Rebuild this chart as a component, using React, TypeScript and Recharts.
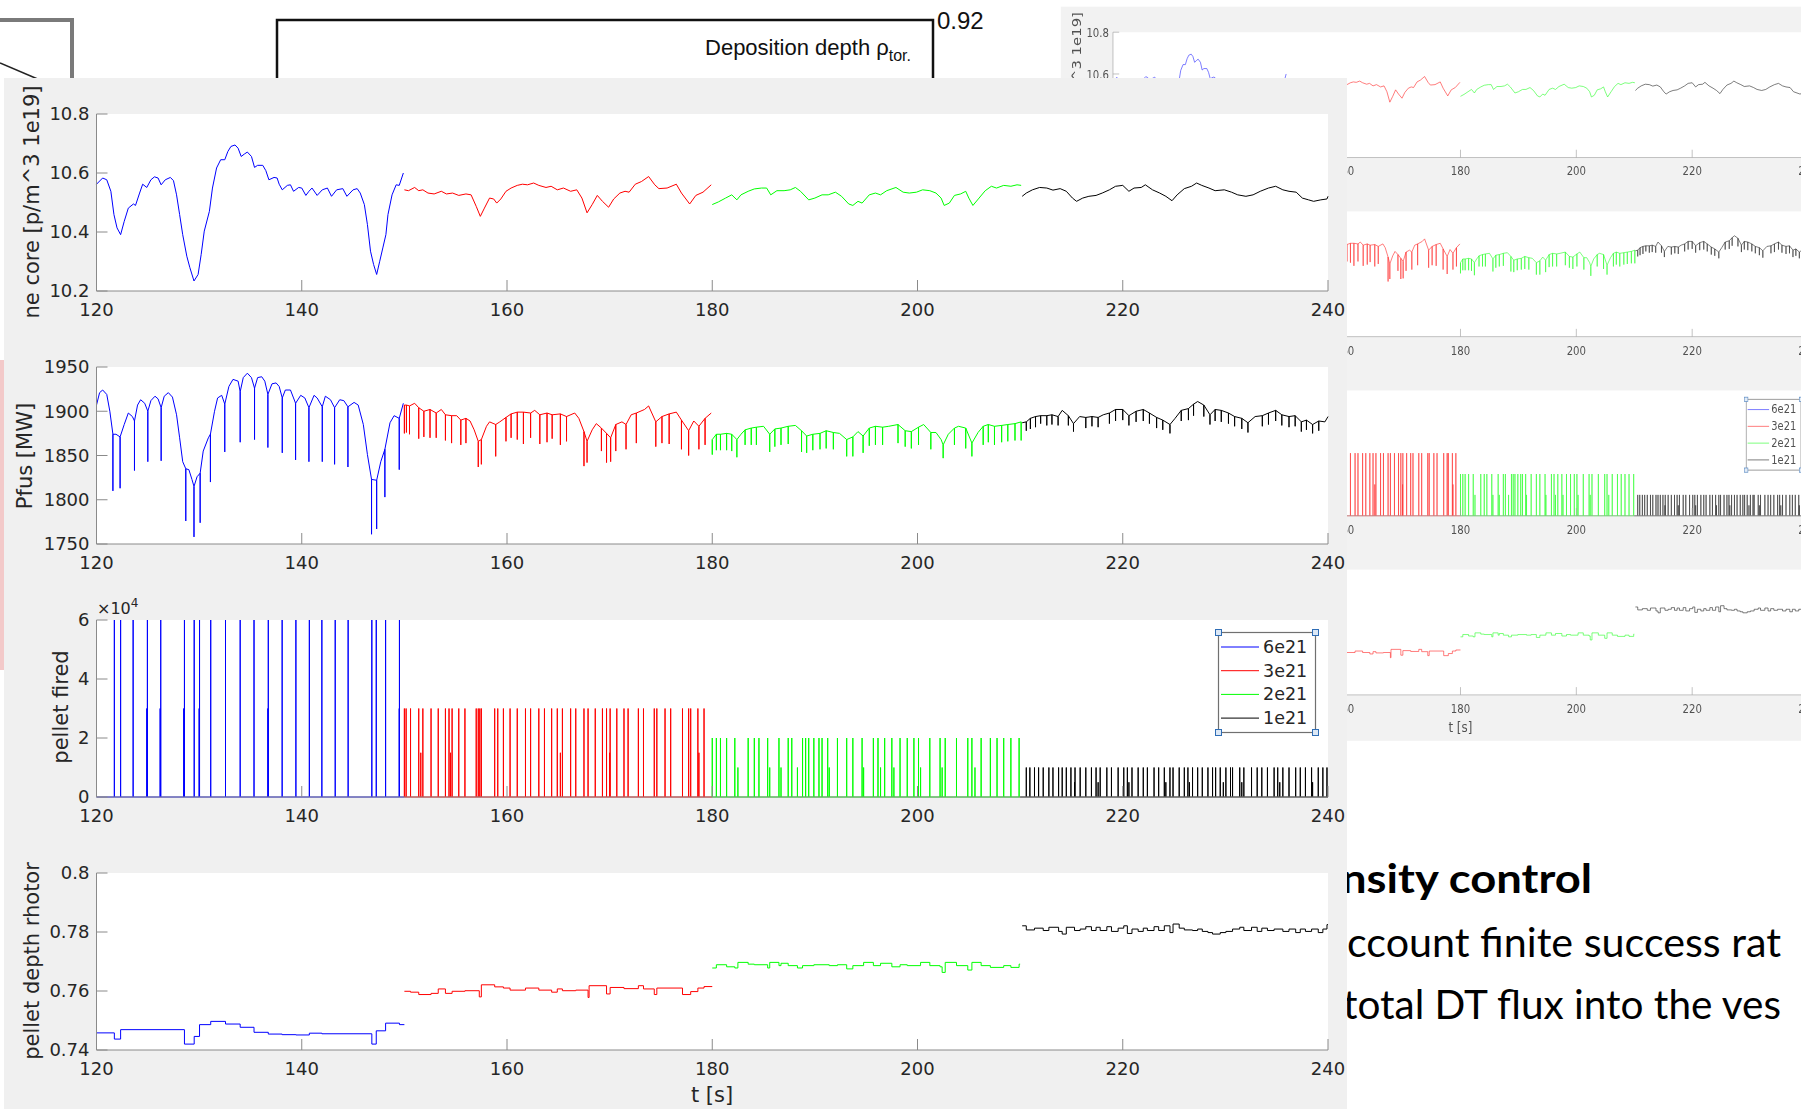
import React from "react";
import { LineChart, Line, XAxis, YAxis, CartesianGrid, Legend } from "recharts";

type Pt = number[];

// ---- axes ----
const timeTicks = [120, 140, 160, 180, 200, 220, 240];
const neTicks = [10.2, 10.4, 10.6, 10.8];
const pfusTicks = [1750, 1800, 1850, 1900, 1950];
const pelletTicks = [0, 20000, 40000, 60000];
const depthTicks = [0.74, 0.76, 0.78, 0.8];

// one segment per pellet size
const seriesNames = ["6e21", "3e21", "2e21", "1e21"];
const segments = [
  [120, 150],
  [150, 180],
  [180, 210],
  [210, 240],
];

// ---- ne core [1e19 m^-3] : [t, value] ----
const neBlue: Pt[] = [
  [120.0, 10.562], [120.6, 10.583], [121.0, 10.577], [121.4, 10.538], [121.7, 10.459], [122.0, 10.414],
  [122.35, 10.391], [122.7, 10.436], [123.1, 10.481], [123.6, 10.495], [123.8, 10.49], [124.2, 10.532],
  [124.5, 10.562], [124.9, 10.551], [125.3, 10.577], [125.65, 10.587], [126.0, 10.583], [126.3, 10.56],
  [126.7, 10.577], [127.2, 10.585], [127.5, 10.574], [127.8, 10.526], [128.1, 10.459], [128.4, 10.391],
  [128.8, 10.318], [129.1, 10.279], [129.5, 10.234], [129.9, 10.256], [130.2, 10.324], [130.5, 10.403],
  [131.0, 10.47], [131.3, 10.549], [131.7, 10.617], [132.1, 10.645], [132.5, 10.645], [132.8, 10.673],
  [133.1, 10.69], [133.5, 10.695], [133.8, 10.684], [134.1, 10.656], [134.4, 10.664], [134.7, 10.671],
  [135.1, 10.656], [135.4, 10.619], [135.7, 10.626], [136.2, 10.626], [136.5, 10.608], [136.8, 10.577],
  [137.3, 10.585], [137.6, 10.583], [137.8, 10.562], [138.1, 10.543], [138.6, 10.558], [138.9, 10.56],
  [139.2, 10.538], [139.7, 10.551], [140.0, 10.549], [140.4, 10.524], [140.7, 10.538], [141.0, 10.549],
  [141.5, 10.524], [142.0, 10.543], [142.5, 10.549], [142.9, 10.521], [143.4, 10.543], [144.0, 10.547],
  [144.4, 10.521], [145.0, 10.543], [145.4, 10.547], [145.7, 10.532], [146.1, 10.493], [146.4, 10.425],
  [146.7, 10.335], [147.0, 10.29], [147.3, 10.256], [147.6, 10.301], [147.9, 10.346], [148.2, 10.391],
  [148.4, 10.459], [148.8, 10.526], [149.2, 10.56], [149.5, 10.558], [149.9, 10.6],
];
const neRed: Pt[] = [
  [150.0, 10.543], [150.4, 10.54], [151.0, 10.551], [151.4, 10.54], [151.8, 10.543], [152.3, 10.532],
  [152.9, 10.529], [153.6, 10.538], [154.1, 10.529], [154.7, 10.532], [155.3, 10.524], [156.0, 10.529],
  [156.5, 10.526], [157.0, 10.487], [157.4, 10.453], [157.8, 10.481], [158.3, 10.515], [158.7, 10.512],
  [159.0, 10.498], [159.4, 10.512], [159.9, 10.538], [160.4, 10.549], [161.0, 10.558], [161.5, 10.562],
  [162.0, 10.56], [162.6, 10.566], [163.1, 10.558], [163.8, 10.551], [164.3, 10.555], [164.9, 10.543],
  [165.5, 10.549], [166.2, 10.538], [166.8, 10.543], [167.3, 10.515], [167.8, 10.465], [168.3, 10.493],
  [168.8, 10.524], [169.3, 10.504], [169.9, 10.484], [170.4, 10.512], [171.0, 10.532], [171.5, 10.538],
  [171.9, 10.535], [172.5, 10.562], [173.1, 10.571], [173.8, 10.588], [174.4, 10.56], [174.8, 10.547],
  [175.6, 10.549], [176.5, 10.562], [177.0, 10.532], [177.8, 10.495], [178.4, 10.524], [179.1, 10.535],
  [179.9, 10.56],
];
const neGreen: Pt[] = [
  [180.0, 10.493], [180.6, 10.502], [181.3, 10.515], [181.9, 10.526], [182.4, 10.509], [182.8, 10.526],
  [183.5, 10.538], [184.1, 10.546], [184.8, 10.549], [185.3, 10.549], [185.7, 10.526], [186.3, 10.54],
  [187.0, 10.54], [187.6, 10.543], [188.1, 10.551], [188.6, 10.538], [189.4, 10.509], [190.0, 10.515],
  [190.7, 10.526], [191.3, 10.526], [192.0, 10.535], [192.6, 10.521], [193.3, 10.495], [193.7, 10.49],
  [194.2, 10.504], [194.6, 10.498], [195.3, 10.526], [195.9, 10.532], [196.4, 10.526], [197.0, 10.54],
  [197.9, 10.551], [198.6, 10.535], [199.2, 10.532], [199.9, 10.535], [200.5, 10.543], [201.2, 10.54],
  [201.8, 10.532], [202.3, 10.515], [202.6, 10.49], [203.1, 10.498], [203.6, 10.524], [204.2, 10.529],
  [204.7, 10.538], [205.0, 10.515], [205.4, 10.49], [206.0, 10.515], [206.6, 10.54], [207.2, 10.555],
  [207.7, 10.549], [208.4, 10.558], [209.1, 10.555], [209.7, 10.56], [210.1, 10.558],
];
const neBlack: Pt[] = [
  [210.2, 10.521], [210.6, 10.532], [211.2, 10.543], [211.9, 10.551], [212.6, 10.549], [213.2, 10.542],
  [213.9, 10.547], [214.5, 10.538], [215.1, 10.515], [215.5, 10.504], [216.1, 10.515], [216.7, 10.521],
  [217.4, 10.524], [218.0, 10.532], [218.7, 10.543], [219.3, 10.555], [220.0, 10.558], [220.6, 10.538],
  [221.1, 10.549], [221.8, 10.551], [222.2, 10.56], [222.9, 10.543], [223.6, 10.532], [224.2, 10.521],
  [224.8, 10.506], [225.3, 10.526], [226.0, 10.547], [226.7, 10.555], [227.2, 10.566], [227.7, 10.558],
  [228.4, 10.549], [229.0, 10.54], [229.9, 10.543], [230.6, 10.535], [231.2, 10.526], [232.0, 10.521],
  [232.7, 10.526], [233.4, 10.538], [234.2, 10.549], [234.9, 10.555], [235.6, 10.543], [236.2, 10.538],
  [236.9, 10.535], [237.5, 10.515], [238.1, 10.509], [238.6, 10.504], [239.3, 10.509], [239.9, 10.512],
  [240.0, 10.521],
];

// ---- Pfus [MW] : [t, value, spike minimum when a pellet hits] ----
const pfusBlue: Pt[] = [
  [120.0, 1907], [120.3, 1921], [120.6, 1924], [121.0, 1919], [121.3, 1900], [121.6, 1874, 1810],
  [121.9, 1874], [122.3, 1871, 1813], [122.7, 1885], [123.1, 1898], [123.5, 1894], [123.7, 1889, 1833],
  [124.0, 1907], [124.3, 1913], [124.7, 1909], [125.0, 1900, 1843], [125.3, 1912], [125.7, 1917],
  [126.0, 1914], [126.3, 1904, 1844], [126.6, 1917], [127.0, 1921], [127.4, 1916], [127.8, 1896],
  [128.1, 1870], [128.4, 1843], [128.7, 1835, 1776], [129.0, 1834], [129.3, 1823], [129.5, 1815, 1758],
  [129.8, 1826], [130.1, 1830, 1774], [130.4, 1855], [130.9, 1870], [131.1, 1874, 1820], [131.5, 1900],
  [131.8, 1915], [132.2, 1918], [132.5, 1908, 1854], [132.9, 1928], [133.3, 1936], [133.8, 1934],
  [134.0, 1922, 1865], [134.3, 1938], [134.7, 1943], [135.1, 1938], [135.4, 1926, 1868], [135.7, 1938],
  [136.1, 1939], [136.4, 1934], [136.7, 1919, 1859], [137.1, 1931], [137.5, 1932], [137.8, 1928],
  [138.1, 1915, 1853], [138.4, 1924], [138.9, 1924], [139.2, 1915], [139.4, 1909, 1845], [139.9, 1918],
  [140.3, 1915], [140.7, 1904, 1843], [141.2, 1918], [141.5, 1915], [142.0, 1905, 1843], [142.3, 1917],
  [142.8, 1913], [143.2, 1904, 1840], [143.7, 1913], [144.1, 1912], [144.5, 1905, 1837], [145.1, 1910],
  [145.5, 1907], [146.0, 1885], [146.4, 1851], [146.8, 1823, 1761], [147.3, 1822, 1767], [147.7, 1843],
  [148.1, 1857, 1803], [148.6, 1887], [149.0, 1895], [149.5, 1892, 1834], [149.9, 1909],
];
const pfusRed: Pt[] = [
  [150.0, 1907, 1875], [150.2, 1907, 1876], [150.5, 1906, 1874], [151.0, 1909], [151.4, 1904, 1869],
  [151.9, 1900, 1871], [152.5, 1902, 1870], [153.1, 1898, 1870], [153.6, 1902], [154.0, 1896, 1867],
  [154.6, 1895, 1864], [155.1, 1895], [155.5, 1890, 1862], [156.0, 1892, 1864], [156.4, 1889], [156.8, 1879],
  [157.2, 1866, 1837], [157.5, 1868, 1840], [158.0, 1883], [158.3, 1888], [158.9, 1885, 1849], [159.3, 1888],
  [159.9, 1893, 1866], [160.4, 1897, 1870], [161.0, 1899, 1868], [161.6, 1899, 1863], [162.3, 1898, 1870],
  [162.7, 1901], [163.2, 1896, 1863], [163.9, 1898, 1865], [164.4, 1896, 1869], [165.2, 1897, 1862],
  [165.8, 1894, 1866], [166.6, 1898], [167.0, 1892], [167.5, 1877, 1838], [167.8, 1866, 1842], [168.3, 1879],
  [168.7, 1886], [169.2, 1881, 1855], [169.7, 1875, 1842], [170.1, 1870, 1843], [170.6, 1885, 1855],
  [171.2, 1888], [171.6, 1885, 1857], [172.1, 1896], [172.6, 1898, 1864], [173.4, 1902], [173.8, 1906],
  [174.5, 1888, 1860], [175.1, 1894, 1864], [175.8, 1897, 1863], [176.5, 1899], [177.0, 1890, 1857],
  [177.7, 1878, 1850], [178.2, 1889], [178.7, 1883, 1857], [179.3, 1892, 1862], [179.9, 1898],
];
const pfusGreen: Pt[] = [
  [180.0, 1868, 1851], [180.4, 1874, 1856], [180.8, 1874, 1856], [181.4, 1875, 1856], [181.9, 1874, 1855],
  [182.4, 1868, 1848], [182.8, 1874], [183.2, 1879, 1862], [183.8, 1881, 1862], [184.3, 1882, 1862],
  [185.0, 1883], [185.6, 1874, 1854], [186.1, 1880, 1860], [186.7, 1881, 1862], [187.4, 1883, 1863],
  [188.1, 1884], [188.7, 1878, 1854], [189.2, 1872, 1853], [189.8, 1874, 1856], [190.5, 1875, 1857],
  [191.1, 1878, 1858], [191.8, 1876, 1857], [192.4, 1875], [193.1, 1868, 1849], [193.7, 1871, 1849],
  [194.2, 1877], [194.7, 1872, 1853], [195.3, 1881, 1861], [195.9, 1883, 1862], [196.6, 1882, 1862],
  [197.2, 1883], [198.1, 1885, 1864], [198.8, 1878, 1860], [199.4, 1877, 1858], [200.1, 1882, 1862],
  [200.6, 1885], [201.3, 1876, 1857], [201.8, 1876], [202.3, 1868], [202.5, 1862, 1847], [203.0, 1874],
  [203.6, 1881, 1862], [204.0, 1883], [204.7, 1881, 1858], [205.3, 1864, 1849], [205.9, 1876],
  [206.4, 1883, 1862], [206.9, 1885, 1865], [207.5, 1883, 1862], [208.2, 1884, 1865], [208.8, 1885, 1866],
  [209.5, 1886, 1867], [210.1, 1888, 1867],
];
const pfusBlack: Pt[] = [
  [210.2, 1887], [210.6, 1888, 1878], [211.0, 1892, 1880], [211.5, 1894, 1882], [212.0, 1895, 1886],
  [212.6, 1895, 1884], [213.1, 1896, 1885], [213.7, 1894, 1884], [214.1, 1901], [214.7, 1895, 1884],
  [215.2, 1886, 1877], [215.8, 1894], [216.4, 1893, 1881], [217.0, 1894, 1883], [217.6, 1893, 1882],
  [218.1, 1896], [218.7, 1898, 1886], [219.3, 1902, 1889], [220.0, 1902, 1890], [220.6, 1895, 1884],
  [221.3, 1900, 1888], [222.0, 1902, 1889], [222.6, 1898, 1886], [223.3, 1893, 1881], [223.9, 1890, 1879],
  [224.6, 1885, 1875], [225.1, 1892], [225.7, 1901, 1889], [226.4, 1903, 1890], [226.9, 1908, 1895],
  [227.3, 1911], [227.9, 1907, 1894], [228.5, 1896, 1885], [229.0, 1902, 1889], [229.6, 1901, 1888],
  [230.3, 1898, 1886], [230.9, 1894, 1883], [231.6, 1892, 1880], [232.2, 1887, 1876], [232.9, 1894],
  [233.6, 1895, 1883], [234.2, 1898, 1885], [234.9, 1901, 1889], [235.5, 1896, 1884], [236.2, 1894, 1882],
  [236.8, 1895, 1883], [237.4, 1888, 1877], [237.9, 1890, 1879], [238.5, 1885, 1875], [239.1, 1889, 1878],
  [239.7, 1888], [240.0, 1894],
];

// ---- pellets fired : [t, amount] ----
const pelletBlue: Pt[] = [
  [121.74, 60000], [122.35, 60000], [123.57, 60000], [124.9, 30000], [124.96, 60000], [126.2, 30000],
  [126.26, 60000], [128.5, 30000], [128.57, 60000], [129.52, 60000], [130.0, 30000], [130.04, 60000],
  [131.13, 60000], [132.57, 60000], [134.0, 60000], [135.35, 60000], [136.7, 30000], [136.74, 60000],
  [138.09, 60000], [139.43, 60000], [140.74, 60000], [141.96, 60000], [143.26, 60000], [144.52, 60000],
  [146.83, 60000], [147.26, 60000], [148.17, 60000], [149.5, 30000], [149.52, 60000],
];
const pelletRed: Pt[] = [
  [150.0, 30000], [150.17, 30000], [150.6, 30000], [151.4, 30000], [151.6, 15000], [151.8, 30000],
  [152.6, 30000], [153.3, 30000], [154.0, 30000], [154.35, 30000], [154.5, 15000], [154.65, 30000],
  [155.3, 30000], [155.9, 30000], [157.0, 30000], [157.2, 30000], [157.35, 30000], [157.5, 30000],
  [158.8, 30000], [159.1, 30000], [159.65, 30000], [160.3, 30000], [161.0, 30000], [161.8, 30000],
  [162.3, 30000], [163.1, 30000], [163.65, 30000], [164.35, 30000], [164.9, 30000], [165.2, 15000],
  [165.4, 30000], [166.2, 30000], [166.7, 30000], [167.5, 30000], [167.9, 30000], [168.6, 30000],
  [169.3, 30000], [169.7, 30000], [170.0, 15000], [170.05, 30000], [170.7, 30000], [171.4, 30000],
  [171.8, 30000], [172.8, 30000], [173.3, 30000], [174.35, 30000], [174.6, 30000], [175.4, 30000],
  [175.95, 30000], [177.1, 30000], [177.7, 30000], [177.9, 30000], [178.6, 30000], [178.7, 15000],
  [179.2, 30000],
];
const pelletGreen: Pt[] = [
  [180.0, 20000], [180.4, 20000], [180.8, 20000], [181.4, 20000], [182.2, 20000], [182.5, 10000],
  [183.5, 20000], [184.1, 20000], [184.55, 20000], [185.4, 20000], [185.6, 10000], [186.5, 20000],
  [186.7, 10000], [187.4, 20000], [187.75, 20000], [188.3, 10000], [188.8, 20000], [189.1, 20000],
  [189.4, 20000], [189.9, 20000], [190.4, 20000], [190.7, 20000], [191.25, 20000], [191.4, 10000],
  [192.2, 20000], [193.1, 20000], [193.7, 20000], [194.6, 20000], [194.75, 10000], [195.7, 20000],
  [196.15, 20000], [196.4, 10000], [196.8, 20000], [197.5, 20000], [197.7, 10000], [198.3, 20000],
  [199.0, 20000], [199.65, 20000], [200.1, 20000], [200.3, 10000], [201.2, 20000], [202.2, 20000],
  [202.4, 10000], [202.7, 20000], [203.8, 20000], [204.9, 20000], [205.3, 20000], [205.6, 10000],
  [206.2, 20000], [207.1, 20000], [207.75, 20000], [208.4, 20000], [209.1, 20000], [209.9, 20000],
];
const pelletBlack: Pt[] = [
  [210.6, 10000], [210.95, 10000], [211.4, 10000], [211.8, 10000], [212.25, 10000], [212.8, 10000],
  [213.2, 10000], [213.75, 10000], [214.1, 10000], [214.5, 10000], [214.95, 10000], [215.3, 5000],
  [215.35, 10000], [215.85, 10000], [216.4, 10000], [216.95, 10000], [217.4, 10000], [217.6, 5000],
  [217.8, 10000], [218.45, 10000], [218.9, 10000], [219.55, 10000], [220.1, 10000], [220.45, 10000],
  [220.6, 5000], [220.9, 10000], [221.5, 10000], [222.0, 10000], [222.4, 10000], [223.05, 10000],
  [223.5, 10000], [224.05, 10000], [224.2, 5000], [224.6, 10000], [224.9, 10000], [225.5, 10000],
  [226.0, 10000], [226.35, 10000], [226.5, 5000], [226.8, 10000], [227.3, 10000], [227.75, 10000],
  [228.3, 10000], [228.75, 10000], [229.05, 10000], [229.5, 10000], [229.8, 5000], [230.05, 10000],
  [230.5, 10000], [230.7, 10000], [231.4, 10000], [231.6, 5000], [231.8, 10000], [232.55, 10000],
  [233.1, 10000], [233.55, 10000], [234.1, 10000], [234.75, 10000], [235.1, 10000], [235.3, 5000],
  [235.6, 10000], [236.2, 10000], [236.85, 10000], [237.3, 10000], [237.8, 10000], [238.4, 10000],
  [238.5, 5000], [239.05, 10000], [239.5, 10000], [239.9, 10000],
];

// ---- pellet deposition depth (rho_tor), stepped : [t, value] ----
const depthBlue: Pt[] = [
  [120.0, 0.7458], [121.74, 0.7437], [122.35, 0.7469], [128.57, 0.742], [129.52, 0.7446], [130.04, 0.7486],
  [131.13, 0.7497], [132.57, 0.7488], [134.0, 0.7477], [135.35, 0.746], [136.74, 0.7454], [138.09, 0.7452],
  [139.43, 0.7451], [140.74, 0.7457], [141.96, 0.7455], [146.83, 0.742], [147.26, 0.7465], [148.17, 0.7491],
  [149.52, 0.7486],
];
const depthRed: Pt[] = [
  [150.0, 0.7599], [150.6, 0.7596], [151.4, 0.7588], [152.6, 0.7592], [153.3, 0.7607], [154.0, 0.7592],
  [154.65, 0.7599], [155.9, 0.7601], [157.3, 0.758], [157.5, 0.7621], [158.8, 0.7614], [159.65, 0.761],
  [160.3, 0.7603], [161.8, 0.761], [163.1, 0.7603], [164.35, 0.7596], [164.9, 0.7607], [165.4, 0.7601],
  [166.7, 0.7603], [167.9, 0.7578], [168.0, 0.7618], [169.7, 0.759], [170.05, 0.7612], [171.4, 0.7608],
  [172.8, 0.7618], [173.3, 0.7607], [174.35, 0.7588], [174.6, 0.761], [177.1, 0.7588], [177.9, 0.7598],
  [178.6, 0.761], [179.2, 0.7615],
];
const depthGreen: Pt[] = [
  [180.0, 0.7678], [180.4, 0.7689], [181.4, 0.7682], [182.2, 0.7678], [182.5, 0.7697], [183.5, 0.7691],
  [184.1, 0.7689], [185.4, 0.7678], [185.6, 0.7697], [186.5, 0.7686], [186.7, 0.7694], [187.4, 0.7686],
  [188.3, 0.7678], [188.8, 0.7686], [189.9, 0.7689], [191.4, 0.7686], [192.2, 0.7689], [193.1, 0.7675],
  [193.7, 0.7686], [194.75, 0.7697], [195.7, 0.7686], [196.4, 0.7694], [197.5, 0.7682], [198.3, 0.7689],
  [199.0, 0.7686], [200.3, 0.7697], [201.2, 0.7686], [202.2, 0.7682], [202.4, 0.7663], [202.7, 0.7697],
  [203.8, 0.7686], [204.9, 0.7671], [205.3, 0.7697], [206.2, 0.7686], [207.1, 0.768], [208.4, 0.7686],
  [209.1, 0.768], [209.9, 0.7691],
];
const depthBlack: Pt[] = [
  [210.2, 0.7821], [210.6, 0.7807], [211.4, 0.7813], [212.25, 0.7805], [212.8, 0.7816], [213.75, 0.7802],
  [214.1, 0.7793], [214.5, 0.7816], [215.3, 0.7805], [215.85, 0.781], [216.4, 0.7818], [216.95, 0.7805],
  [217.4, 0.7816], [217.8, 0.7805], [218.45, 0.7818], [218.9, 0.7802], [219.55, 0.7813], [220.1, 0.7821],
  [220.45, 0.7795], [220.9, 0.781], [221.5, 0.7802], [222.0, 0.7813], [222.4, 0.7805], [223.05, 0.7818],
  [223.5, 0.7805], [224.05, 0.7821], [224.6, 0.7798], [224.9, 0.7827], [225.5, 0.7813], [226.0, 0.7807],
  [226.8, 0.7805], [227.3, 0.781], [227.75, 0.7802], [228.3, 0.7798], [228.75, 0.7793], [229.5, 0.7798],
  [230.05, 0.7802], [230.7, 0.781], [231.4, 0.7816], [231.8, 0.7805], [232.55, 0.7816], [233.1, 0.7802],
  [233.55, 0.7813], [234.1, 0.7805], [234.75, 0.781], [235.6, 0.7802], [236.2, 0.781], [236.85, 0.7798],
  [237.3, 0.781], [237.8, 0.7802], [238.4, 0.781], [239.05, 0.7798], [239.5, 0.781], [239.9, 0.7825],
];

// ---- styling ----
const COLORS = ["#0000ff", "#ff0000", "#00ff00", "#000000"];
const FONT = "DejaVu Sans, sans-serif";
const AXIS = "#8a8a8a";
const INK = "#262626";
const PLOT_LEFT = 96.5;
const PLOT_RIGHT = 1328;
const PLOT_H = 177;

// ---- data builders ----
const toLine = (pts: Pt[]) => pts.map(([t, v]) => ({ t, v }));
const toSpiky = (pts: Pt[]) =>
  pts.flatMap(([t, v, low]) => (low === undefined ? [{ t, v }] : [{ t, v }, { t, v: low }, { t, v }]));
const toPulses = (pts: Pt[], [start, end]: number[]) => [
  { t: start, v: 0 },
  ...pts.flatMap(([t, a]) => [{ t, v: 0 }, { t, v: a }, { t, v: 0 }]),
  { t: end, v: 0 },
];
const toSteps = (pts: Pt[], [, end]: number[]) => [...toLine(pts), { t: end, v: pts[pts.length - 1][1] }];

const neData = [neBlue, neRed, neGreen, neBlack].map(toLine);
const pfusData = [pfusBlue, pfusRed, pfusGreen, pfusBlack].map(toSpiky);
const pelletData = [pelletBlue, pelletRed, pelletGreen, pelletBlack].map((p, i) => toPulses(p, segments[i]));
const depthData = [depthBlue, depthRed, depthGreen, depthBlack].map((p, i) => toSteps(p, segments[i]));

const tickStyle = { fill: INK, fontSize: 18, fontFamily: FONT };

function LegendBox(props: any) {
  const payload: any[] = props.payload || [];
  // keep the order in which the series were plotted
  const items = seriesNames.map((n) => payload.find((p) => p.value === n)).filter(Boolean);
  const corners = [
    [0, 0],
    [97, 0],
    [0, 100],
    [97, 100],
  ];
  return (
    <svg width={104} height={108} style={{ overflow: "visible", display: "block" }}>
      <rect x={0.5} y={0.5} width={97} height={100} fill="#fff" stroke="#707070" strokeWidth={1.2} />
      {items.map((p: any, i: number) => (
        <g key={p.value}>
          <line x1={3} x2={41} y1={15 + i * 23.7} y2={15 + i * 23.7} stroke={p.color} strokeWidth={1} />
          <text x={45} y={15 + i * 23.7} dominantBaseline="central" fontSize={17.5} fontFamily={FONT} fill={INK}>
            {p.value}
          </text>
        </g>
      ))}
      {corners.map(([cx, cy]) => (
        <rect key={`${cx}-${cy}`} x={cx - 2.5} y={cy - 2.5} width={6} height={6} fill="#dce8f6" stroke="#2f6db5" strokeWidth={1} />
      ))}
    </svg>
  );
}

type PanelProps = {
  top: number;
  data: { t: number; v: number }[][];
  domain: number[];
  ticks: number[];
  fmt: (v: number) => string;
  step?: boolean;
  legend?: boolean;
};

function Panel({ top, data, domain, ticks, fmt, step, legend }: PanelProps) {
  return (
    <div style={{ position: "absolute", left: 0, top: top - 10 }}>
      <LineChart width={PLOT_RIGHT + 20} height={PLOT_H + 50} margin={{ top: 10, right: 20, bottom: 0, left: 0 }}>
        <CartesianGrid stroke="none" fill="#ffffff" />
        <XAxis
          type="number"
          dataKey="t"
          domain={[120, 240]}
          ticks={timeTicks}
          interval={0}
          height={40}
          tickSize={-11}
          tickMargin={23.5}
          stroke={AXIS}
          tick={tickStyle}
        />
        <XAxis
          xAxisId="top"
          orientation="top"
          type="number"
          dataKey="t"
          domain={[120, 240]}
          ticks={timeTicks}
          interval={0}
          height={0}
          mirror
          tickSize={11}
          tick={false}
          stroke={AXIS}
        />
        <YAxis
          type="number"
          domain={domain}
          ticks={ticks}
          interval={0}
          width={PLOT_LEFT}
          tickSize={-11}
          tickMargin={18}
          tickFormatter={fmt}
          stroke={AXIS}
          tick={tickStyle}
        />
        <YAxis
          yAxisId="right"
          orientation="right"
          type="number"
          domain={domain}
          ticks={ticks}
          interval={0}
          width={0}
          mirror
          tickSize={11}
          tick={false}
          stroke={AXIS}
        />
        {data.map((d, i) => (
          <Line
            key={seriesNames[i]}
            name={seriesNames[i]}
            data={d}
            dataKey="v"
            type={step ? "stepAfter" : "linear"}
            stroke={COLORS[i]}
            strokeWidth={1}
            dot={false}
            activeDot={false}
            isAnimationActive={false}
          />
        ))}
        {legend && (
          <Legend
            layout="horizontal"
            verticalAlign="middle"
            align="center"
            content={LegendBox}
            wrapperStyle={{ left: 1218, top: 22, width: 104, height: 108 }}
          />
        )}
      </LineChart>
    </div>
  );
}

const label = { fontSize: 21, fontFamily: FONT, fill: INK };

function Figure() {
  return (
    <div style={{ position: "absolute", left: 0, top: 0, width: 1347, height: 1115 }}>
      <div style={{ position: "absolute", left: 4, top: 78, width: 1343, height: 1037, background: "#f0f0f0" }} />
      <Panel top={114} data={neData} domain={[10.2, 10.8]} ticks={neTicks} fmt={(v) => v.toFixed(1)} />
      <Panel top={366.5} data={pfusData} domain={[1750, 1950]} ticks={pfusTicks} fmt={(v) => String(v)} />
      <Panel top={620} data={pelletData} domain={[0, 60000]} ticks={pelletTicks} fmt={(v) => String(v / 10000)} legend />
      <Panel top={873} data={depthData} domain={[0.74, 0.8]} ticks={depthTicks} fmt={(v) => String(v)} step />
      <svg width={1347} height={1115} style={{ position: "absolute", left: 0, top: 0, pointerEvents: "none" }}>
        <text transform="translate(32,202) rotate(-90)" textAnchor="middle" dominantBaseline="central" {...label}>
          ne core [p/m^3 1e19]
        </text>
        <text transform="translate(25,456) rotate(-90)" textAnchor="middle" dominantBaseline="central" {...label}>
          Pfus [MW]
        </text>
        <text transform="translate(61,707) rotate(-90)" textAnchor="middle" dominantBaseline="central" {...label}>
          pellet fired
        </text>
        <text transform="translate(32,961) rotate(-90)" textAnchor="middle" dominantBaseline="central" {...label}>
          pellet depth rhotor
        </text>
        <text x={712} y={1102} textAnchor="middle" {...label}>
          t [s]
        </text>
        <text x={97} y={614} fontSize={16} fontFamily={FONT} fill={INK}>
          ×10<tspan dy={-7} fontSize={12}>4</tspan>
        </text>
      </svg>
    </div>
  );
}

export default function App() {
  return (
    <div
      style={{
        position: "absolute",
        left: 0,
        top: 0,
        width: 1801,
        height: 1109,
        overflow: "hidden",
        background: "#ffffff",
      }}
    >
      {/* slide behind the figures */}
      <svg width={1801} height={1109} style={{ position: "absolute", left: 0, top: 0 }}>
        <path d="M0 20 H72 V80" fill="none" stroke="#7a7a7a" strokeWidth={4} />
        <line x1={0} y1={63} x2={40} y2={80} stroke="#222" strokeWidth={1.5} />
        <rect x={277} y={20} width={656} height={120} fill="none" stroke="#111" strokeWidth={2.5} />
        <text x={937} y={29} fontSize={24} fontFamily="Liberation Sans, Arial, sans-serif" fill="#111">
          0.92
        </text>
        <text x={911} y={55} textAnchor="end" fontSize={22} fontFamily="Liberation Sans Narrow, Liberation Sans, sans-serif" fill="#111">
          Deposition depth ρ<tspan dy={6} fontSize={16}>tor.</tspan>
        </text>
        <rect x={0} y={360} width={4} height={310} fill="#f3c9c9" />
        <text x={1341} y={893} fontSize={41} fontWeight={700} fontFamily="Lato, Open Sans, sans-serif" fill="#000" textLength={251} lengthAdjust="spacingAndGlyphs">
          nsity control
        </text>
        <text x={1347} y={957} fontSize={40} fontFamily="Lato, Open Sans, sans-serif" fill="#000" textLength={434} lengthAdjust="spacingAndGlyphs">
          ccount finite success rat
        </text>
        <text x={1343} y={1019} fontSize={40} fontFamily="Lato, Open Sans, sans-serif" fill="#000" textLength={438} lengthAdjust="spacingAndGlyphs">
          total DT flux into the ves
        </text>
      </svg>
      {/* the same figure pasted smaller behind, at the right */}
      <div
        style={{
          position: "absolute",
          left: 0,
          top: 0,
          transform: "translate(1058.5px, -48.5px) scale(0.5644, 0.708)",
          transformOrigin: "0 0",
          opacity: 0.8,
          filter: "blur(0.5px)",
        }}
      >
        <Figure />
      </div>
      <Figure />
    </div>
  );
}
